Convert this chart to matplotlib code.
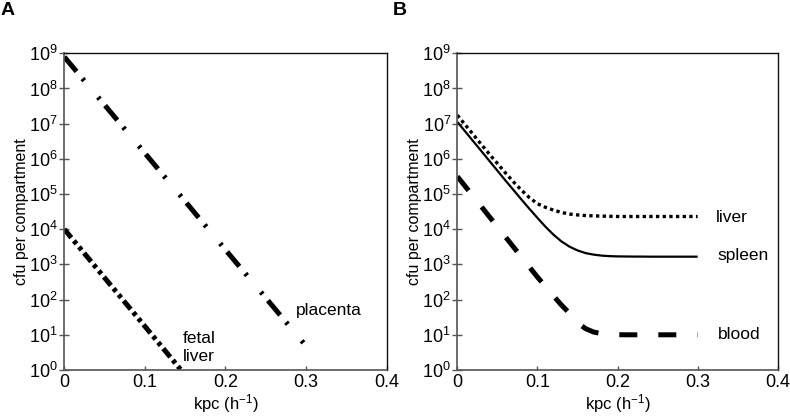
import matplotlib
matplotlib.use("Agg")
import matplotlib.pyplot as plt
import numpy as np

plt.rcParams['font.family'] = ['Liberation Sans', 'DejaVu Sans']
plt.rcParams['mathtext.fontset'] = 'custom'
plt.rcParams['mathtext.rm'] = 'Liberation Sans'
plt.rcParams['mathtext.it'] = 'Liberation Sans:italic'
plt.rcParams['mathtext.bf'] = 'Liberation Sans:bold'

# ---------------- data ----------------
# Panel A
placenta_x = [0.0, 0.05, 0.10, 0.15, 0.20, 0.25, 0.30]
placenta_y = [7.9e8, 3.4e7, 1.45e6, 6.2e4, 2.6e3, 112, 4.8]
fetal_x = [0.0, 0.05, 0.10, 0.15]
fetal_y = [1.0e4, 417, 17.4, 0.72]

# Panel B
kpc_b = [0.00, 0.01, 0.02, 0.03, 0.04, 0.05, 0.06, 0.07, 0.08, 0.09,
         0.10, 0.11, 0.12, 0.13, 0.14, 0.15, 0.16, 0.17, 0.18, 0.19,
         0.20, 0.21, 0.22, 0.23, 0.24, 0.25, 0.26, 0.27, 0.28, 0.29, 0.30]
liver_y = [1.74e7, 9.2e6, 4.85e6, 2.56e6, 1.36e6, 7.4e5, 4.0e5, 2.23e5, 1.29e5, 7.9e4,
           5.3e4, 4.2e4, 3.5e4, 3.0e4, 2.7e4, 2.55e4, 2.45e4, 2.4e4, 2.36e4, 2.33e4,
           2.3e4, 2.3e4, 2.3e4, 2.3e4, 2.3e4, 2.3e4, 2.3e4, 2.3e4, 2.3e4, 2.3e4, 2.3e4]
spleen_y = [1.12e7, 5.93e6, 3.13e6, 1.66e6, 8.75e5, 4.62e5, 2.44e5, 1.31e5, 7.0e4, 3.8e4,
            2.1e4, 1.18e4, 7.0e3, 4.5e3, 3.2e3, 2.5e3, 2.1e3, 1.9e3, 1.78e3, 1.72e3,
            1.69e3, 1.68e3, 1.67e3, 1.67e3, 1.66e3, 1.66e3, 1.66e3, 1.66e3, 1.66e3, 1.66e3, 1.66e3]
blood_y = [3.16e5, 1.64e5, 8.47e4, 4.39e4, 2.27e4, 1.17e4, 6.08e3, 3.15e3, 1.63e3, 843,
           437, 236, 127, 70, 41, 22, 15, 12, 10.8, 10.3,
           10.1, 10, 10, 10, 10, 10, 10, 10, 10, 10, 10]

xticks = [0, 0.1, 0.2, 0.3, 0.4]
xtick_labels = ['0', '0.1', '0.2', '0.3', '0.4']
exponents = [0, 1, 2, 3, 4, 5, 6, 7, 8, 9]

# ---------------- figure ----------------
fig = plt.figure(figsize=(7.9, 4.16), dpi=100)
axA = fig.add_axes([0.0814, 0.1106, 0.408, 0.7613])
axB = fig.add_axes([0.5789, 0.1106, 0.4056, 0.7613])

TFS = 13
LFS = 11.5
AFS = 12.5

def style(ax):
    ax.set_yscale('log')
    ax.set_xlim(0, 0.4)
    ax.set_ylim(1, 1e9)
    ax.set_yticks([10.0 ** e for e in exponents])
    ax.set_yticklabels([r'$\mathdefault{10^{%d}}$' % e for e in exponents])
    ax.yaxis.set_minor_locator(matplotlib.ticker.NullLocator())
    ax.set_xticks(xticks)
    ax.set_xticklabels(xtick_labels)
    ax.tick_params(axis='y', direction='inout', length=7, width=1.0,
                   color='#555555', labelsize=TFS, pad=1)
    ax.tick_params(axis='x', direction='in', length=3, width=1.0,
                   color='#555555', labelsize=TFS, pad=3)
    for s in ['left', 'bottom']:
        ax.spines[s].set_color('#555555')
        ax.spines[s].set_linewidth(1.2)
    for s in ['top', 'right']:
        ax.spines[s].set_color('#111111')
        ax.spines[s].set_linewidth(1.0)
    ax.set_xlabel(r'kpc (h$^{-1}$)', fontsize=LFS + 0.5, labelpad=1)
    ax.set_ylabel('cfu per compartment', fontsize=LFS, labelpad=0)

style(axA)
style(axB)

# Panel A lines
lp, = axA.plot(placenta_x, placenta_y, color='black', lw=3.6,
               solid_capstyle='butt', dash_capstyle='butt')
lp.set_dashes([3.8, 1.85, 0.55, 4.3, 0.55, 1.65])
lf, = axA.plot(fetal_x, fetal_y, color='black', lw=3.6,
               solid_capstyle='butt', dash_capstyle='butt')
lf.set_dashes([2.2, 0.8, 0.8, 0.8, 0.8, 0.8])

axA.text(0.288, 10 ** 1.68, 'placenta', fontsize=AFS, va='center', ha='left')
axA.text(0.147, 10 ** 0.65, 'fetal\nliver', fontsize=AFS, va='center', ha='left',
         linespacing=1.25)

# Panel B lines
ll, = axB.plot(kpc_b, liver_y, color='black', lw=2.4, dash_capstyle='butt')
ll.set_dashes([1, 1])
axB.plot(kpc_b, spleen_y, color='black', lw=1.6, solid_capstyle='butt')
lb, = axB.plot(kpc_b, blood_y, color='black', lw=3.6, dash_capstyle='butt')
lb.set_dashes([3.6, 4.2])

axB.text(0.323, 10 ** 4.34, 'liver', fontsize=AFS, va='center', ha='left')
axB.text(0.325, 10 ** 3.26, 'spleen', fontsize=AFS, va='center', ha='left')
axB.text(0.325, 10 ** 1.02, 'blood', fontsize=AFS, va='center', ha='left')

fig.text(0.001, 0.995, 'A', fontsize=14, fontweight='bold', va='top', ha='left')
fig.text(0.497, 0.995, 'B', fontsize=14, fontweight='bold', va='top', ha='left')

fig.savefig('out.png', dpi=100)
